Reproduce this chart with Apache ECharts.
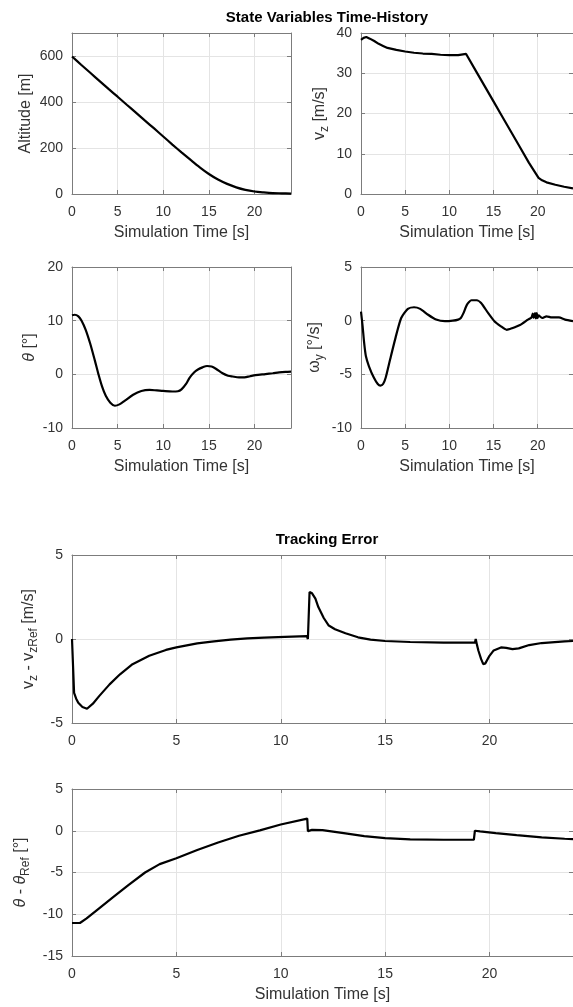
<!DOCTYPE html>
<html>
<head>
<meta charset="utf-8">
<script src="https://cdn.jsdelivr.net/npm/echarts@6/dist/echarts.min.js"></script>
<style>
html,body{margin:0;padding:0;background:#fff;overflow:hidden}
#c{width:573px;height:1007px}
</style>
</head>
<body>
<div id="c"></div>
<script>
// ---- data ----
const altT = [0,1,2,3,4,5,6,7,8,9,10,11,12,13,14,15,16,17,18,19,20,21,22,23,24];
const altV = [598,562,527,492,457,423,388,354,319,285,250,215,181,148,116,87,63,44,29,18,11,7,4,3,2];

const vzT = [0,0.3,0.6,1,1.5,2,2.5,3,4,5,6,7,8,9,10,11,11.9,13,14,15,16,17,18,19,20.1,20.5,21,22,23,24];
const vzV = [38.3,38.8,39.0,38.6,38.0,37.3,36.8,36.3,35.8,35.4,35.1,34.9,34.8,34.6,34.5,34.5,34.8,30.6,26.8,23.0,19.2,15.4,11.6,7.8,4.0,3.4,2.9,2.3,1.8,1.4];

const thT = [0,0.3,0.7,1.05,1.5,2.0,2.5,2.9,3.3,3.7,4.2,4.7,5.2,5.8,6.7,7.6,8.5,9.3,10,11,11.6,12,12.5,12.9,13.4,13.8,14.3,14.8,15.3,15.8,16.5,17.1,17.6,18.3,18.9,19.5,20.1,21.2,22,22.7,23.4,24];
const thV = [11.0,11.1,10.8,10.0,8.3,5.7,2.6,0,-2.3,-4.0,-5.3,-5.85,-5.6,-4.9,-3.8,-3.1,-2.9,-3.0,-3.1,-3.2,-3.15,-2.8,-1.8,-0.6,0.4,0.9,1.3,1.55,1.45,1.0,0.2,-0.25,-0.4,-0.55,-0.55,-0.35,-0.15,0.05,0.2,0.35,0.45,0.5];

const wyT = [0,0.18,0.36,0.55,0.9,1.45,1.9,2.2,2.5,2.8,3.3,4.0,4.55,5.3,6.0,6.7,7.6,8.5,9.5,10.4,11.0,11.3,11.6,12.0,12.5,13.1,13.6,14.4,15.1,15.8,16.5,17.1,18.0,18.9,19.3,19.45,19.55,19.7,19.8,19.9,20.0,20.1,20.5,21.0,21.6,22.4,23.1,24];
const wyV = [0.85,-0.5,-2.1,-3.3,-4.25,-5.3,-5.9,-6.05,-5.9,-5.3,-3.6,-1.3,0.25,1.1,1.25,1.1,0.55,0.1,-0.05,0,0.1,0.25,0.7,1.5,1.9,1.9,1.65,0.7,-0.05,-0.5,-0.85,-0.7,-0.4,0.1,0.3,0.65,0.25,0.7,0.2,0.7,0.25,0.5,0.25,0.4,0.3,0.3,0.1,-0.05];

const evT = [0,0.08,0.1,0.2,0.3,0.5,0.72,1.0,1.3,1.8,2.3,2.9,3.7,4.5,5.0,6.0,6.8,7.6,8.4,9.2,10.2,11.25,11.3,11.36,11.38,11.5,11.66,11.8,12.06,12.3,12.6,13.1,13.7,14.3,15.0,16.2,17.8,19.3,19.34,19.4,19.47,19.6,19.7,19.8,20.0,20.2,20.55,20.8,21.1,21.4,21.9,22.5,23.6,24];
const evV = [0,0,-3.2,-3.55,-3.8,-4.05,-4.15,-3.85,-3.4,-2.7,-2.1,-1.5,-1.0,-0.65,-0.5,-0.26,-0.14,-0.04,0.04,0.08,0.13,0.17,0.0,0.05,2.8,2.72,2.4,1.9,1.25,0.8,0.58,0.34,0.1,-0.04,-0.12,-0.18,-0.21,-0.22,0.0,-0.35,-0.7,-1.2,-1.5,-1.45,-1.0,-0.68,-0.5,-0.53,-0.6,-0.56,-0.36,-0.24,-0.14,-0.12];

const etT = [0,0.38,0.7,1.3,2.0,2.7,3.5,4.2,5.0,6.0,7.0,8.0,9.0,10.0,11.27,11.3,11.5,12.0,13.1,14.0,15.0,16.2,17.8,19.25,19.3,19.55,20.3,21.3,22.5,23.6,24];
const etV = [-11.05,-11.05,-10.5,-9.3,-7.9,-6.5,-5.0,-4.0,-3.3,-2.3,-1.4,-0.6,0.05,0.75,1.45,-0.05,0.1,0.08,-0.32,-0.64,-0.88,-1.04,-1.08,-1.08,0.0,-0.08,-0.28,-0.52,-0.8,-0.96,-1.0];

// axis ranges: [min, max, interval]
const xRange = [0, 24, 5];
const altRange = [0, 700, 200];
const vzRange = [0, 40, 10];
const thRange = [-10, 20, 10];
const wyRange = [-10, 5, 5];
const evRange = [-5, 5, 5];
const etRange = [-15, 5, 5];

const xName = 'Simulation Time [s]';
const title1 = 'State Variables Time-History';
const title2 = 'Tracking Error';

// ---- styling ----
const FONT = '"Liberation Sans", Arial, Helvetica, sans-serif';
const axisCol = '#7c7c7c';
const textCol = '#333333';
const gridCol = '#e4e4e4';

const nameRich = {
  n: {fontSize: 16, lineHeight: 22, color: textCol, fontFamily: FONT},
  i: {fontSize: 16, lineHeight: 22, color: textCol, fontFamily: FONT, fontStyle: 'italic'},
  s: {fontSize: 12, lineHeight: 12, color: textCol, fontFamily: FONT, padding: [10, 0, 0, 0]}
};

const panels = [
  {g: {left: 72, top: 33, width: 219, height: 161}, y: altRange, yName: '{n|Altitude [m]}', yGap: 35, hideYMax: true, t: altT, v: altV, smooth: 0.3},
  {g: {left: 361, top: 33, width: 220, height: 161}, y: vzRange, yName: '{n|v}{s|z}{n| [m/s]}', yGap: 30, t: vzT, v: vzV, smooth: 0},
  {g: {left: 72, top: 267, width: 219, height: 161}, y: thRange, yName: '{i|θ}{n| [°]}', yGap: 31, t: thT, v: thV, smooth: 0.3},
  {g: {left: 361, top: 267, width: 220, height: 161}, y: wyRange, yName: '{n|ω}{s|y}{n| [°/s]}', yGap: 35, t: wyT, v: wyV, smooth: 0.2},
  {g: {left: 72, top: 555, width: 509, height: 168}, y: evRange, yName: '{n|v}{s|z}{n| - v}{s|zRef}{n| [m/s]}', yGap: 30, t: evT, v: evV, noXName: true, smooth: 0},
  {g: {left: 72, top: 789, width: 509, height: 167}, y: etRange, yName: '{i|θ}{n| - }{i|θ}{s|Ref}{n| [°]}', yGap: 39, t: etT, v: etV, smooth: 0}
];

const grids = [], xAxes = [], yAxes = [], series = [];
const tickStyle = {inside: true, length: 4, lineStyle: {color: axisCol, width: 1}};
const lineStyle = {show: true, onZero: false, lineStyle: {color: axisCol, width: 1}};

panels.forEach((p, gi) => {
  grids.push(Object.assign({containLabel: false}, p.g));
  xAxes.push({
    gridIndex: gi, type: 'value', position: 'bottom',
    min: xRange[0], max: xRange[1], interval: xRange[2],
    axisLine: lineStyle, axisTick: tickStyle,
    axisLabel: {showMaxLabel: false, margin: 11, fontSize: 14, lineHeight: 14, color: textCol, fontFamily: FONT},
    splitLine: {show: true, lineStyle: {color: gridCol, width: 1}},
    name: p.noXName ? '' : xName, nameLocation: 'middle', nameGap: 29,
    nameTextStyle: {fontSize: 16, lineHeight: 20, color: textCol, fontFamily: FONT}
  });
  xAxes.push({
    gridIndex: gi, type: 'value', position: 'top',
    min: xRange[0], max: xRange[1], interval: xRange[2],
    axisLine: lineStyle, axisTick: tickStyle,
    axisLabel: {show: false}, splitLine: {show: false}
  });
  yAxes.push({
    gridIndex: gi, type: 'value', position: 'left',
    min: p.y[0], max: p.y[1], interval: p.y[2],
    axisLine: lineStyle, axisTick: tickStyle,
    axisLabel: {showMaxLabel: !p.hideYMax, margin: 9, fontSize: 14, color: textCol, fontFamily: FONT},
    splitLine: {show: true, lineStyle: {color: gridCol, width: 1}},
    name: p.yName, nameLocation: 'middle', nameGap: p.yGap,
    nameTextStyle: {rich: nameRich, fontSize: 16, color: textCol, fontFamily: FONT}
  });
  yAxes.push({
    gridIndex: gi, type: 'value', position: 'right',
    min: p.y[0], max: p.y[1], interval: p.y[2],
    axisLine: lineStyle, axisTick: tickStyle,
    axisLabel: {show: false}, splitLine: {show: false}
  });
  series.push({
    type: 'line', xAxisIndex: 2 * gi, yAxisIndex: 2 * gi,
    data: p.t.map((t, k) => [t, p.v[k]]),
    showSymbol: false, symbol: 'none', clip: true,
    smooth: p.smooth,
    lineStyle: {color: '#000', width: 2.2},
    emphasis: {disabled: true}
  });
});

const chart = echarts.init(document.getElementById('c'), null, {renderer: 'canvas'});
chart.setOption({
  animation: false,
  backgroundColor: '#ffffff',
  grid: grids, xAxis: xAxes, yAxis: yAxes, series: series,
  graphic: [
    {type: 'text', x: 327, y: 18, style: {text: title1, fill: '#000', font: 'bold 15px ' + FONT, align: 'center', verticalAlign: 'middle', textAlign: 'center', textVerticalAlign: 'middle'}},
    {type: 'text', x: 327, y: 540, style: {text: title2, fill: '#000', font: 'bold 15px ' + FONT, align: 'center', verticalAlign: 'middle', textAlign: 'center', textVerticalAlign: 'middle'}}
  ]
});
</script>
</body>
</html>
